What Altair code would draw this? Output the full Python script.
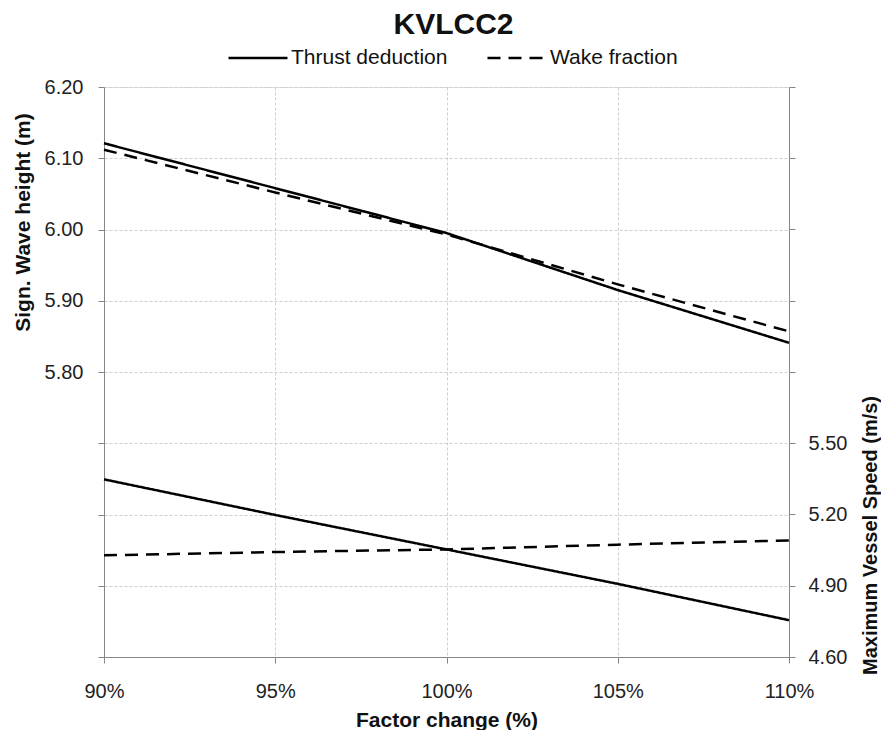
import altair as alt
import pandas as pd

# ---- data ----
factor = [90, 95, 100, 105, 110]
series = ["Thrust deduction", "Wake fraction"]
wave_thrust = [6.121, 6.058, 5.995, 5.915, 5.841]
wave_wake = [6.112, 6.052, 5.993, 5.923, 5.857]
speed_thrust = [5.348, 5.198, 5.053, 4.908, 4.755]
speed_wake = [5.028, 5.042, 5.053, 5.073, 5.091]
x_ticks = [90, 95, 100, 105, 110]
wave_ticks = [5.4, 5.5, 5.6, 5.7, 5.8, 5.9, 6.0, 6.1, 6.2]
speed_ticks = [4.6, 4.9, 5.2, 5.5, 5.8, 6.1, 6.4, 6.7, 7.0]

wave_df = pd.DataFrame({
    "factor": factor + factor,
    "value": wave_thrust + wave_wake,
    "series": [series[0]] * len(factor) + [series[1]] * len(factor),
})
speed_df = pd.DataFrame({
    "factor": factor + factor,
    "value": speed_thrust + speed_wake,
    "series": [series[0]] * len(factor) + [series[1]] * len(factor),
})

FONT = "Liberation Sans"
AX = "#868686"
GRID = "#cfcfcf"

dash_scale = alt.Scale(domain=series, range=[[1, 0], [13, 8]])

x_enc = alt.X(
    "factor:Q",
    scale=alt.Scale(domain=[90, 110], nice=False, zero=False),
    axis=alt.Axis(
        values=x_ticks, labelExpr="datum.value + '%'", title="Factor change (%)",
        labelFlush=False,
        grid=True, gridColor=GRID, gridDash=[3, 2], domainColor=AX, tickColor=AX,
        tickSize=6, labelFontSize=20, labelFont=FONT, labelColor="#222",
        labelPadding=18, titleFont=FONT, titleFontSize=21, titleFontWeight="bold",
        titleColor="#111", titleBaseline="alphabetic", titleY=69,
    ),
)

top = alt.Chart(wave_df).mark_line(color="black", strokeWidth=2.5).encode(
    x=x_enc,
    y=alt.Y(
        "value:Q",
        scale=alt.Scale(domain=[5.4, 6.2], nice=False, zero=False),
        axis=alt.Axis(
            orient="left", values=wave_ticks,
            labelExpr="datum.value >= 5.79 ? format(datum.value, '.2f') : ''",
            title="Sign. Wave height (m)", grid=True, gridColor=GRID, gridDash=[3, 2],
            domainColor=AX, tickColor=AX, tickSize=6, labelFontSize=20, labelFont=FONT,
            labelColor="#222", labelPadding=15, titleFont=FONT, titleFontSize=21,
            titleFontWeight="bold", titleColor="#111", titleAngle=270,
            titleAlign="center", titleBaseline="middle", titleX=-81, titleY=135,
        ),
    ),
    strokeDash=alt.StrokeDash(
        "series:N", scale=dash_scale,
        legend=alt.Legend(
            title=None, orient="none", direction="horizontal", legendX=123, legendY=-60,
            symbolType="stroke", symbolSize=3481, symbolStrokeWidth=2.5,
            symbolStrokeColor="black", labelFont=FONT, labelFontSize=21,
            labelColor="#111", labelOffset=2, columnPadding=34,
        ),
    ),
)

bottom = alt.Chart(speed_df).mark_line(color="black", strokeWidth=2.5).encode(
    x=x_enc,
    y=alt.Y(
        "value:Q",
        scale=alt.Scale(domain=[4.6, 7.0], nice=False, zero=False),
        axis=alt.Axis(
            orient="right", values=speed_ticks,
            labelExpr="datum.value <= 5.51 ? format(datum.value, '.2f') : ''",
            title="Maximum Vessel Speed (m/s)", grid=False, domainColor=AX, tickColor=AX,
            tickSize=6, labelFontSize=20, labelFont=FONT, labelColor="#222",
            labelPadding=13, titleFont=FONT, titleFontSize=20, titleFontWeight="bold",
            titleColor="#111", titleAngle=270, titleAlign="center",
            titleBaseline="middle", titleX=81, titleY=448,
        ),
    ),
    strokeDash=alt.StrokeDash("series:N", scale=dash_scale, legend=None),
)

chart = (
    alt.layer(top, bottom)
    .resolve_scale(y="independent")
    .properties(
        width=685, height=570, autosize="none",
        padding={"left": 96, "top": 79, "right": 92, "bottom": 73},
        title=alt.TitleParams(
            "KVLCC2", font=FONT, fontSize=30, fontWeight="bold", color="#111",
            anchor="middle", dx=7, offset=0, dy=13,
        ),
    )
    .configure_view(strokeWidth=0)
    .configure(background="white")
)

chart.save("out.html", embed_options={"renderer": "svg", "actions": False})
